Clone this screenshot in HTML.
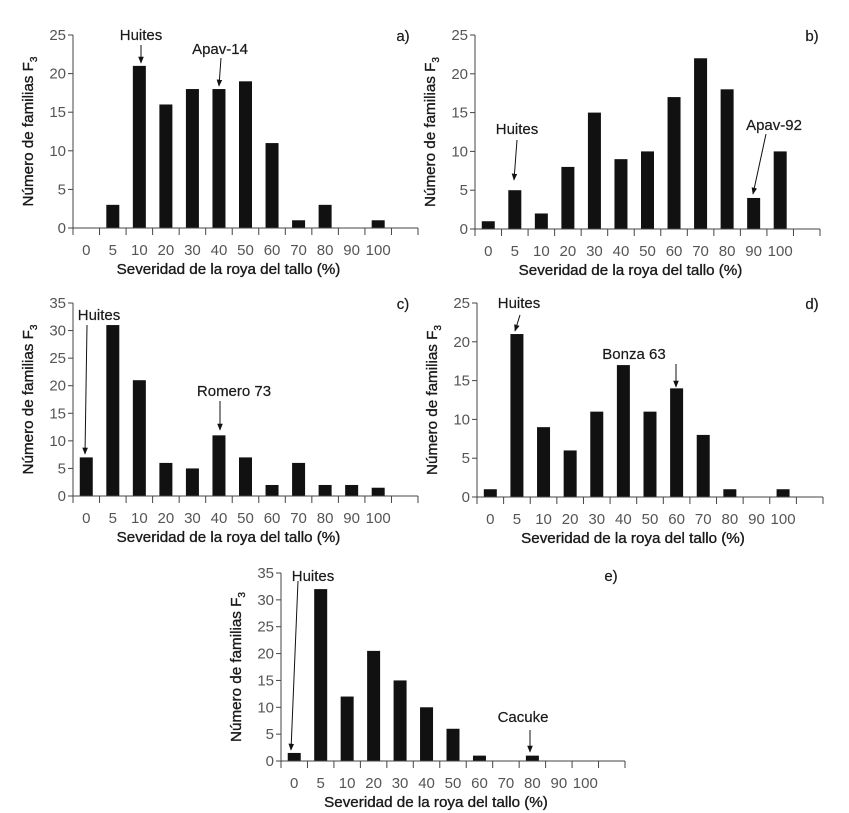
<!DOCTYPE html>
<html><head><meta charset="utf-8"><style>
html,body{margin:0;padding:0;background:#fff;}
svg{display:block;font-family:"Liberation Sans",sans-serif;}
.tick{font-size:15px;fill:#555;}
.ttl{font-size:15.2px;fill:#1a1a1a;stroke:#1a1a1a;stroke-width:0.35px;}
.ann{font-size:15px;fill:#1a1a1a;stroke:#1a1a1a;stroke-width:0.2px;}
</style></head><body>
<svg id="fig" width="849" height="813" viewBox="0 0 849 813" xmlns="http://www.w3.org/2000/svg">
<defs><marker id="ah" viewBox="0 0 10 10" refX="9" refY="5" markerWidth="7" markerHeight="7" orient="auto"><path d="M0,1 L10,5 L0,9 z" fill="#111"/></marker></defs>
</svg>
<script>
const categories = ["0","5","10","20","30","40","50","60","70","80","90","100"];
const valuesA = [0,3,21,16,18,18,19,11,1,3,0,1];
const valuesB = [1,5,2,8,15,9,10,17,22,18,4,10];
const valuesC = [7,31,21,6,5,11,7,2,6,2,2,1.5];
const valuesD = [1,21,9,6,11,17,11,14,8,1,0,1];
const valuesE = [1.5,32,12,20.5,15,10,6,1,0,1,0,0];
const ticks25 = [0,5,10,15,20,25];
const ticks35 = [0,5,10,15,20,25,30,35];

const NS = "http://www.w3.org/2000/svg";
const svg = document.getElementById("fig");
function mk(tag, attrs, parent){const e=document.createElementNS(NS,tag);for(const k in attrs)e.setAttribute(k,attrs[k]);(parent||svg).appendChild(e);return e;}

const panels = [
 {id:"a", x0:73, x1:418, yTop:35, y0:228, max:25, yt:ticks25, vals:valuesA, label:"a)",
  ann:[{t:"Huites",tx:141,ty:40,ax1:141,ay1:45,ax2:141,ay2:63},{t:"Apav-14",tx:220,ty:54,ax1:221,ay1:58,ax2:219,ay2:86}]},
 {id:"b", x0:475, x1:820, yTop:35, y0:229, max:25, yt:ticks25, vals:valuesB, label:"b)",
  ann:[{t:"Huites",tx:517,ty:134,ax1:517,ay1:140,ax2:514,ay2:180},{t:"Apav-92",tx:774,ty:130,ax1:766,ay1:134,ax2:753,ay2:194}]},
 {id:"c", x0:73, x1:418, yTop:303, y0:496, max:35, yt:ticks35, vals:valuesC, label:"c)",
  ann:[{t:"Huites",tx:99,ty:320,ax1:87,ay1:325,ax2:85,ay2:454},{t:"Romero 73",tx:234,ty:396,ax1:220,ay1:401,ax2:220,ay2:430}]},
 {id:"d", x0:477, x1:823, yTop:303, y0:497, max:25, yt:ticks25, vals:valuesD, label:"d)",
  ann:[{t:"Huites",tx:519,ty:308,ax1:520,ay1:315,ax2:515,ay2:331},{t:"Bonza 63",tx:634,ty:359,ax1:676,ay1:364,ax2:676,ay2:387}]},
 {id:"e", x0:281, x1:625, yTop:573, y0:761, max:35, yt:ticks35, vals:valuesE, label:"e)",
  ann:[{t:"Huites",tx:313,ty:581,ax1:298,ay1:581,ax2:291,ay2:750},{t:"Cacuke",tx:523,ty:722,ax1:530,ay1:730,ax2:530,ay2:752}]}
];
const labelPos = {a:[403,41],b:[812,41],c:[403,309],d:[812,309],e:[611,581]};

panels.forEach(p=>{
  const g = mk("g",{});
  
  
  const n = categories.length + 1;
  const step = (p.x1-p.x0)/n;
  const xScale = i => p.x0 + step*(i+0.5);
  const yScale = v => p.y0 - (v/p.max)*(p.y0-p.yTop);
  p.vals.forEach((v,i)=>{
    if(v<=0) return;
    const r = mk("rect",{x:xScale(i)-6.5,y:yScale(v),width:13,height:p.y0-yScale(v),fill:"#111"},g);
    
    
  });
  const ya = mk("line",{x1:p.x0,y1:p.yTop,x2:p.x0,y2:p.y0,stroke:"#444","stroke-width":1},g);
  
  
  const xa = mk("line",{x1:p.x0,y1:p.y0,x2:p.x1,y2:p.y0,stroke:"#444","stroke-width":1},g);
  
  
  for(let k=0;k<=n;k++){
    const x=p.x0+step*k;
    mk("line",{x1:x,y1:p.y0,x2:x,y2:p.y0+7,stroke:"#444","stroke-width":1},g);
  }
  categories.forEach((c,i)=>{
    const t = mk("text",{x:xScale(i),y:p.y0+27,"text-anchor":"middle",class:"tick"},g);
    t.textContent=c;
    
    
  });
  p.yt.forEach(v=>{
    const y=yScale(v);
    mk("line",{x1:p.x0-5,y1:y,x2:p.x0,y2:y,stroke:"#444","stroke-width":1},g);
    const t = mk("text",{x:p.x0-7,y:y+5,"text-anchor":"end",class:"tick"},g);
    t.textContent=v;
    
    
  });
  const xt = mk("text",{x:(p.x0+p.x1)/2-17,y:p.y0+46,"text-anchor":"middle",class:"ttl"},g);
  xt.textContent="Severidad de la roya del tallo (%)";
  
  
  const cx = p.x0-40, cy=(p.yTop+p.y0)/2;
  const yt = mk("text",{x:cx,y:cy,"text-anchor":"middle",class:"ttl",transform:`rotate(-90 ${cx} ${cy})`},g);
  yt.textContent="Número de familias F";
  const sub = mk("tspan",{"font-size":"10px",dy:"4"},yt);
  sub.textContent="3";
  
  
  const lp=labelPos[p.id];
  const pl = mk("text",{x:lp[0],y:lp[1],"text-anchor":"middle",class:"ann"},g);
  pl.textContent=p.label;
  
  
  p.ann.forEach(a=>{
    const t = mk("text",{x:a.tx,y:a.ty,"text-anchor":"middle",class:"ann"},g);
    t.textContent=a.t;
    
    
    const l = mk("line",{x1:a.ax1,y1:a.ay1,x2:a.ax2,y2:a.ay2,stroke:"#111","stroke-width":1,"marker-end":"url(#ah)"},g);
    
    
  });
});
</script>
</body></html>
